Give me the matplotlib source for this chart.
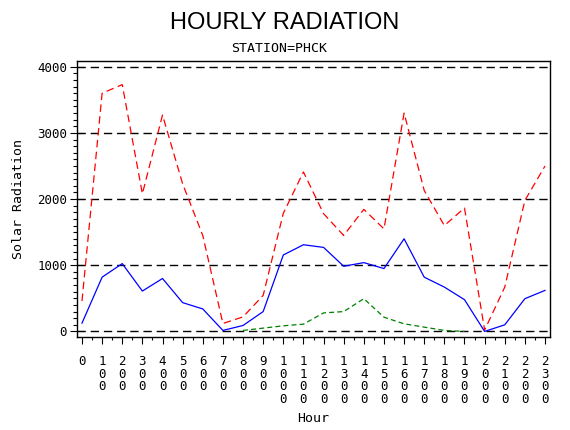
import numpy as np
import matplotlib
matplotlib.use("Agg")
import matplotlib.pyplot as plt
from matplotlib.ticker import MultipleLocator

# =========================
# 数据
# =========================
HOURS = list(range(24))
HOUR_LABELS = [str(h * 100) for h in HOURS]

MAX_RAD = [460, 3600, 3730, 2080, 3270, 2230, 1450, 120, 220, 545, 1785, 2410,
           1780, 1450, 1845, 1550, 3300, 2130, 1600, 1865, 20, 670, 1980, 2500]
MEAN_RAD = [125, 820, 1025, 610, 800, 435, 340, 15, 90, 300, 1155, 1310,
            1270, 985, 1040, 950, 1400, 820, 670, 480, 0, 100, 495, 620]
MIN_RAD = [np.nan] * 8 + [15, 50, 85, 110, 280, 300, 495, 215, 115, 65, 15, 0] + [np.nan] * 4

TITLE = "HOURLY RADIATION"
SUBTITLE = "STATION=PHCK"
Y_LABEL = "Solar Radiation"
X_LABEL = "Hour"
Y_TICKS = [0, 1000, 2000, 3000, 4000]

MONO = "DejaVu Sans Mono"


def stack_digits(s):
    # SAS 风格：横轴标签逐位竖排
    return "\n".join(list(s))


def main():
    fig = plt.figure(figsize=(5.7, 4.3), dpi=100)
    ax = fig.add_axes([0.135, 0.216, 0.83, 0.642])

    # 网格线（黑色虚线）
    for y in Y_TICKS:
        ax.axhline(y, color="black", lw=1.0, ls=(0, (6, 3.5)), zorder=1)

    ax.plot(HOURS, MAX_RAD, color="red", lw=0.9, ls=(0, (6, 3.5)), zorder=3)
    ax.plot(HOURS, MEAN_RAD, color="blue", lw=0.9, ls="-", zorder=3)
    ax.plot(HOURS, MIN_RAD, color="green", lw=0.9, ls=(0, (4, 2.5)), zorder=3)

    ax.set_xlim(-0.25, 23.25)
    ax.set_ylim(-86, 4086)

    ax.set_yticks(Y_TICKS)
    ax.set_yticklabels([str(v) for v in Y_TICKS], family=MONO, fontsize=9)
    ax.yaxis.set_minor_locator(MultipleLocator(100))
    ax.tick_params(axis="y", which="major", direction="inout", length=10, width=0.8, pad=2)
    ax.tick_params(axis="y", which="minor", direction="out", length=3, width=0.8)

    ax.set_xticks(HOURS)
    ax.set_xticklabels([stack_digits(s) for s in HOUR_LABELS], family=MONO,
                       fontsize=9, va="top", linespacing=0.95)
    ax.xaxis.set_minor_locator(MultipleLocator(0.5))
    ax.tick_params(axis="x", which="major", direction="out", length=5, width=0.8, pad=8)
    ax.tick_params(axis="x", which="minor", direction="out", length=2.5, width=0.8)

    for sp in ax.spines.values():
        sp.set_linewidth(1.0)

    ax.set_ylabel(Y_LABEL, family=MONO, fontsize=9.5, labelpad=12)
    ax.yaxis.set_label_coords(-0.11, 0.5)
    ax.set_xlabel(X_LABEL, family=MONO, fontsize=9.5)
    ax.xaxis.set_label_coords(0.5, -0.27)

    fig.text(0.5, 1 - 23 / 430, TITLE, ha="center", va="center",
             family="Liberation Sans", fontsize=17)
    fig.text(0.49, 1 - 49 / 430, SUBTITLE, ha="center", va="center",
             family=MONO, fontsize=9.5)

    fig.savefig("out.png", dpi=100)
    plt.close(fig)


if __name__ == "__main__":
    main()
